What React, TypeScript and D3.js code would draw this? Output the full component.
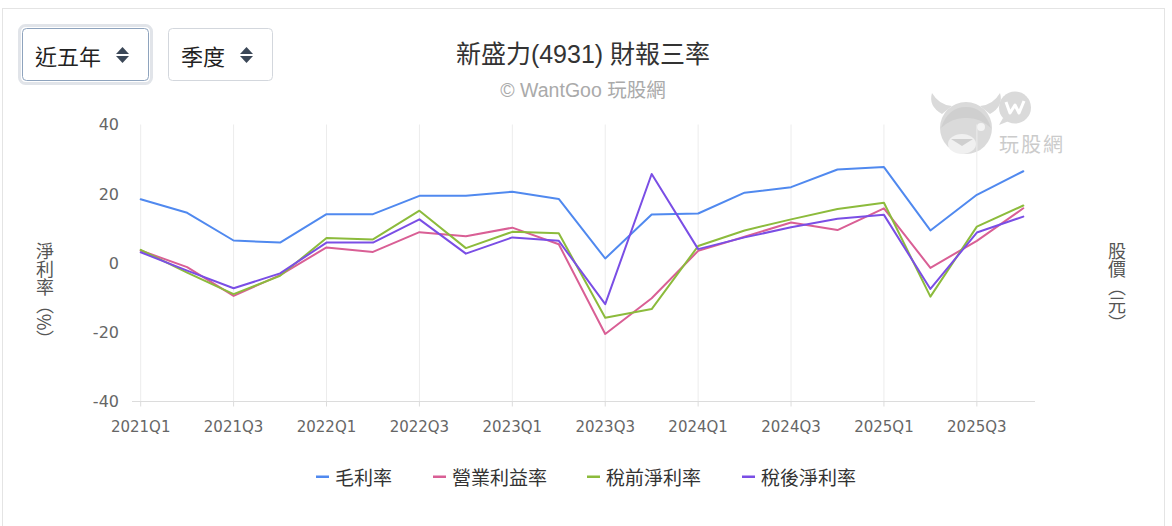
import { useEffect, useRef } from "react"
import * as d3 from "d3"

// 新盛力(4931) 財報三率，單位 %
const quarters = [
  "2021Q1", "2021Q2", "2021Q3", "2021Q4",
  "2022Q1", "2022Q2", "2022Q3", "2022Q4",
  "2023Q1", "2023Q2", "2023Q3", "2023Q4",
  "2024Q1", "2024Q2", "2024Q3", "2024Q4",
  "2025Q1", "2025Q2", "2025Q3", "2025Q4",
]
const grossMargin = [18.4, 14.5, 6.5, 5.9, 14.1, 14.1, 19.4, 19.4, 20.6, 18.5, 1.3, 14.0, 14.3, 20.3, 21.9, 27.0, 27.7, 9.4, 19.7, 26.5]
const operatingMargin = [3.6, -1.2, -9.5, -3.5, 4.5, 3.2, 8.9, 7.7, 10.2, 5.4, -20.5, -10.2, 3.5, 7.6, 11.7, 9.5, 15.8, -1.4, 6.4, 15.8]
const pretaxMargin = [3.8, -2.8, -9.0, -3.7, 7.2, 6.8, 15.1, 4.3, 9.0, 8.6, -15.8, -13.3, 4.9, 9.4, 12.6, 15.6, 17.4, -9.7, 10.5, 16.6]
const netMargin = [3.1, -2.2, -7.3, -3.0, 5.9, 5.9, 12.6, 2.7, 7.4, 6.4, -11.9, 25.7, 4.0, 7.4, 10.3, 12.8, 13.9, -7.5, 8.8, 13.4]
const yTicks = [40, 20, 0, -20, -40]

const seriesNames = ["毛利率", "營業利益率", "稅前淨利率", "稅後淨利率"]
const seriesColors = ["#5089ef", "#d95f95", "#8cbb3c", "#7a4ee5"]
const seriesValues = [grossMargin, operatingMargin, pretaxMargin, netMargin]

const W = 1172
const H = 526
const LATIN = "'Liberation Sans', 'Noto Sans CJK TC', sans-serif"
const CJK = "'Noto Sans CJK TC', sans-serif"

function SelectBox({ x, w, label, focused }: { x: number; w: number; label: string; focused: boolean }) {
  const y = 28, h = 53
  const ax = x + w - 33
  return (
    <g>
      {focused && <rect x={x - 2.5} y={y - 2.5} width={w + 5} height={h + 5} rx={6} fill="none" stroke="#e1e4e9" strokeWidth={3} />}
      <rect x={x + 0.5} y={y + 0.5} width={w - 1} height={h - 1} rx={4} fill="#fff"
        stroke={focused ? "#8ea3bd" : "#d3d7dd"} strokeWidth={1} />
      <text x={x + 13} y={y + h / 2} dominantBaseline="central" fontFamily={CJK} fontSize={22} fill="#222">{label}</text>
      <path d={`M${ax},${y + 26} L${ax + 6.5},${y + 19} L${ax + 13},${y + 26} Z`} fill="#3b4757" />
      <path d={`M${ax},${y + 28} L${ax + 6.5},${y + 35} L${ax + 13},${y + 28} Z`} fill="#3b4757" />
    </g>
  )
}

export default function App() {
  const gRef = useRef<SVGGElement>(null)

  useEffect(() => {
    const g = d3.select(gRef.current)
    g.selectAll("*").remove()

    const x = d3.scalePoint<string>().domain(quarters).range([140.7, 1023.3])
    const y = d3.scaleLinear().domain([-40, 40]).range([401.5, 124.5])
    const labelled = quarters.filter((_, i) => i % 2 === 0)

    // vertical grid lines
    g.append("g").selectAll("line")
      .data(labelled)
      .join("line")
      .attr("x1", (q) => x(q)!).attr("x2", (q) => x(q)!)
      .attr("y1", y(40)).attr("y2", y(-40))
      .attr("stroke", "#ececec").attr("stroke-width", 1)

    // x axis line + ticks
    g.append("line")
      .attr("x1", 132).attr("x2", 1035)
      .attr("y1", y(-40)).attr("y2", y(-40))
      .attr("stroke", "#dcdcdc").attr("stroke-width", 1)
    g.append("g").selectAll("line")
      .data(labelled)
      .join("line")
      .attr("x1", (q) => x(q)!).attr("x2", (q) => x(q)!)
      .attr("y1", y(-40)).attr("y2", y(-40) + 5)
      .attr("stroke", "#dcdcdc")

    g.append("g").selectAll("text")
      .data(labelled)
      .join("text")
      .attr("x", (q) => x(q)!)
      .attr("y", 431.5)
      .attr("text-anchor", "middle")
      .attr("font-family", "'DejaVu Sans', sans-serif")
      .attr("font-size", 15)
      .attr("fill", "#666")
      .text((q) => q)

    g.append("g").selectAll("text")
      .data(yTicks)
      .join("text")
      .attr("x", 119)
      .attr("y", (v) => y(v))
      .attr("dy", "0.36em")
      .attr("text-anchor", "end")
      .attr("font-family", "'DejaVu Sans', sans-serif")
      .attr("font-size", 16)
      .attr("fill", "#666")
      .text((v) => String(v))

    const line = d3.line<number>()
      .x((_, i) => x(quarters[i])!)
      .y((v) => y(v))

    g.append("g").selectAll("path")
      .data(seriesValues)
      .join("path")
      .attr("d", (vals) => line(vals))
      .attr("fill", "none")
      .attr("stroke", (_, i) => seriesColors[i])
      .attr("stroke-width", 2)
      .attr("stroke-linejoin", "round")
      .attr("stroke-linecap", "round")

    // legend
    const legendX = [316, 433, 587, 742]
    const lg = g.append("g").selectAll("g")
      .data(seriesNames)
      .join("g")
      .attr("transform", (_, i) => `translate(${legendX[i]},476.5)`)
    lg.append("rect")
      .attr("x", 0).attr("y", -1).attr("width", 13).attr("height", 2.5)
      .attr("fill", (_, i) => seriesColors[i])
    lg.append("text")
      .attr("x", 19)
      .attr("dominant-baseline", "central")
      .attr("font-family", CJK)
      .attr("font-size", 19)
      .attr("fill", "#333")
      .text((d) => d)
  }, [])

  return (
    <div style={{ position: "absolute", left: 0, top: 0, width: W, height: H, background: "#fff" }}>
      <svg width={W} height={H} style={{ display: "block" }}>
        <rect x={2.5} y={8.5} width={1162} height={530} fill="#fff" stroke="#e4e4e4" />

        <SelectBox x={22} w={127} label="近五年" focused={true} />
        <SelectBox x={168} w={105} label="季度" focused={false} />

        <text x={583} y={54} dominantBaseline="central" textAnchor="middle" fontFamily={LATIN} fontSize={25} fill="#333">新盛力(4931) 財報三率</text>
        <text x={583} y={90} dominantBaseline="central" textAnchor="middle" fontFamily={LATIN} fontSize={19.5} fill="#aaa">© WantGoo 玩股網</text>

        {/* watermark */}
        <g fill="#dadada">
          <path d="M942,114 Q928,106 932,93 Q939,105 952,106 Z" />
          <path d="M990,114 Q1004,106 1000,93 Q993,105 980,106 Z" />
          <circle cx={966} cy={128} r={26} />
          <path d="M941,128 Q948,107 966,107 Q984,107 991,128 Q979,117 966,118 Q953,117 941,128 Z" fill="#cfcfcf" />
          <ellipse cx={962} cy={144} rx={14} ry={10} fill="#f0f0f0" />
          <path d="M951,139 L973,139 L962,146 Z" fill="#cfcfcf" />
          <circle cx={981} cy={127} r={4} fill="#f3f3f3" />
          <circle cx={1015} cy={107.5} r={16} />
          <path d="M1003,118 L999,125 L1009,121 Z" />
          <path d="M1006,102 L1010,113 L1015,105 L1019,113 L1024,101" fill="none" stroke="#fff" strokeWidth={3} strokeLinejoin="round" />
          <text x={999} y={152} fontFamily={CJK} fontSize={20} fill="#cbcbcb" letterSpacing={2}>玩股網</text>
        </g>

        <text x={45} y={295} writingMode="vertical-rl" textAnchor="middle" fontFamily={CJK} fontSize={18} fill="#555">淨利率（%）</text>
        <text x={1117} y={287} writingMode="vertical-rl" textAnchor="middle" fontFamily={CJK} fontSize={18} fill="#555">股價（元）</text>

        <g ref={gRef} />
      </svg>
    </div>
  )
}
